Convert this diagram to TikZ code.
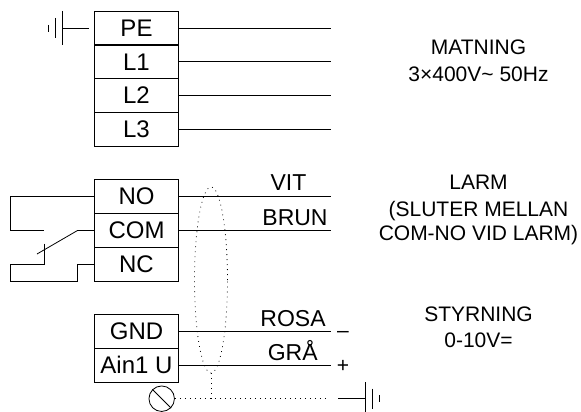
\documentclass[tikz,border=0pt]{standalone}
\usepackage{fontspec}
\setmainfont{Liberation Sans}
\usetikzlibrary{shapes.geometric}
\begin{document}
\begin{tikzpicture}[x=1pt,y=-1pt,line width=0.8pt]
                \tikzstyle{terminal}=[rectangle,draw=black,fill=white,minimum width=84pt,minimum height=33.7pt,inner sep=0pt,font=\fontsize{24}{24}\selectfont]
                \tikzstyle{wirelabel}=[anchor=base,inner sep=0pt,font=\fontsize{23}{23}\selectfont]
                \tikzstyle{note}=[anchor=base,inner sep=0pt,font=\fontsize{21}{21}\selectfont]
                \tikzstyle{screened}=[dash pattern=on 0.8pt off 4.2pt]
                \useasboundingbox (0,0) rectangle (581,412);

                \foreach \name/\label/\y in {PE/PE/28, L1/L1/61.8, L2/L2/95.5, L3/L3/129.2, NO/NO/196.7, COM/COM/230.5, NC/NC/264.2, GND/GND/331.5, AIN/Ain1 U/365.2}
                        \node[terminal] (T-\name) at (136.5,\y) {\label};

                \foreach \name/\y in {PE/28, L1/61.8, L2/95.5, L3/129.2, NO/196.7, COM/230.5, GND/331.5, AIN/365.2}
                {
                        \coordinate (E-\name) at (331,\y);
                        \draw (T-\name) -- (E-\name);
                }

                % earth at the top
                \coordinate (G1) at (62,28);
                \coordinate (G1a) at (62,11);
                \coordinate (G1b) at (62,45);
                \coordinate (G1c) at (55,18);
                \coordinate (G1d) at (55,38);
                \coordinate (G1e) at (48.5,25);
                \coordinate (G1f) at (48.5,32);
                \coordinate (G1w) at (89,28);
                \draw (G1w) -- (G1);
                \draw (G1a) -- (G1b);
                \draw (G1c) -- (G1d);
                \draw (G1e) -- (G1f);

                % relay contact
                \coordinate (C1) at (10,196.7);
                \coordinate (C2) at (10,230.5);
                \coordinate (C3) at (44,230.5);
                \coordinate (C4) at (77.5,230.5);
                \coordinate (C5) at (37,254);
                \coordinate (C6) at (44,243.5);
                \coordinate (C7) at (44,264.2);
                \coordinate (C8) at (10,264.2);
                \coordinate (C9) at (10,281);
                \coordinate (C10) at (77.5,281);
                \coordinate (C11) at (77.5,264.2);
                \draw (T-NO) -- (C1) -- (C2) -- (C3);
                \draw (T-COM) -- (C4) -- (C5);
                \draw (C6) -- (C7) -- (C8) -- (C9) -- (C10) -- (C11) -- (T-NC);

                % screen
                \node[ellipse,draw=black,screened,minimum width=33pt,minimum height=186pt,inner sep=0pt] (screen) at (211,280) {};
                \node[circle,draw=black,minimum size=25.5pt,inner sep=0pt] (clamp) at (161.7,398.7) {};
                \draw (clamp.north west) -- (clamp.south east);
                \coordinate (S1) at (325,398.7);
                \coordinate (S2) at (211,398.7);
                \draw[screened] (clamp) -- (S1);
                \draw[screened] (screen.south) -- (S2);

                % earth at the bottom
                \coordinate (G2w) at (338,398.7);
                \coordinate (G2) at (365.7,398.7);
                \coordinate (G2a) at (365.7,382);
                \coordinate (G2b) at (365.7,412);
                \coordinate (G2c) at (372.5,388.5);
                \coordinate (G2d) at (372.5,408.5);
                \coordinate (G2e) at (379,395);
                \coordinate (G2f) at (379,402);
                \draw (G2w) -- (G2);
                \draw (G2a) -- (G2b);
                \draw (G2c) -- (G2d);
                \draw (G2e) -- (G2f);

                \foreach \x/\y/\txt in {288.5/190.7/VIT, 295/225/BRUN, 293/326/ROSA, 292.7/360/GRÅ}
                        \node[wirelabel] (W-\txt) at (\x,\y) {\txt};
                \node[note] (minus) at (343,337.8) {–};
                \node[note] (plus) at (343,372.5) {+};

                \foreach \y/\txt [count=\i] in {55/MATNING, 81.7/3×400V\textasciitilde{} 50Hz, 189/LARM, 216/(SLUTER MELLAN, 240/COM-NO VID LARM), 321/STYRNING, 347/0-10V=}
                        \node[note] (N-\i) at (478.5,\y) {\txt};
\end{tikzpicture}
\end{document}
